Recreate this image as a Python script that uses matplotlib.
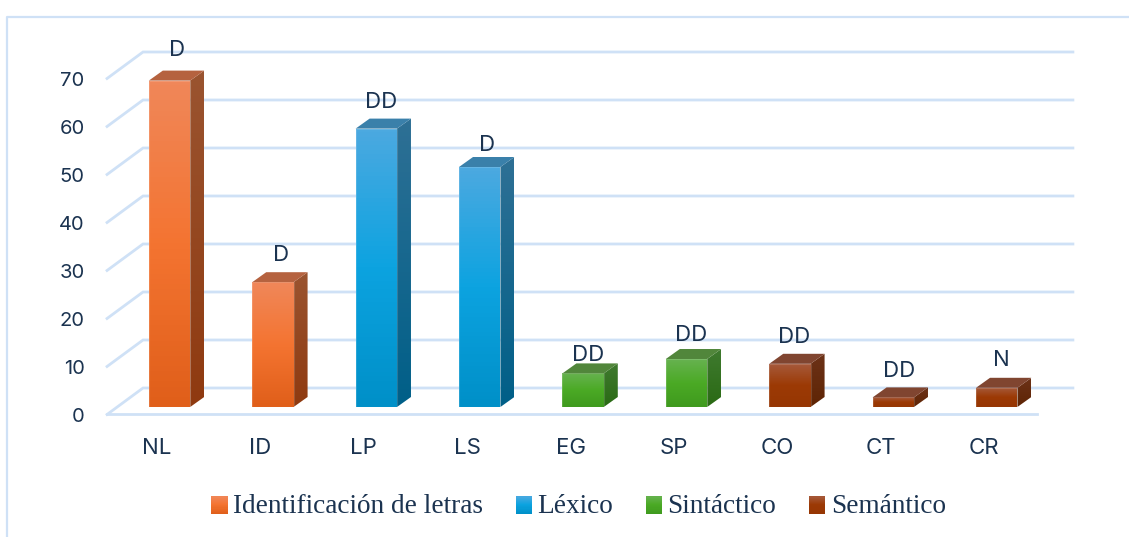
import matplotlib
matplotlib.use('Agg')
import matplotlib.pyplot as plt
import numpy as np
from matplotlib.colors import LinearSegmentedColormap
from matplotlib.legend_handler import HandlerBase
from matplotlib.lines import Line2D
from matplotlib.patches import Patch, Polygon, Rectangle

# Datos
categorias = ['NL', 'ID', 'LP', 'LS', 'EG', 'SP', 'CO', 'CT', 'CR']
valores = [68, 26, 58, 50, 7, 10, 9, 2, 4]
etiquetas = ['D', 'D', 'DD', 'D', 'DD', 'DD', 'DD', 'DD', 'N']
grupos = [0, 0, 1, 1, 2, 2, 3, 3, 3]
nombres_grupos = ['Identificación de letras', 'Léxico', 'Sintáctico', 'Semántico']
ticks_y = [0, 10, 20, 30, 40, 50, 60, 70]

# Colores por grupo
frente = [['#F08759', '#F47431', '#E05F1A'],
          ['#4BA9E0', '#0CA3E0', '#0090C8'],
          ['#66B24F', '#4BAA25', '#3F9A1E'],
          ['#A65A3C', '#9C3A05', '#963603']]
lado = [['#9A5430', '#8F3A10'], ['#2E7095', '#005F88'],
        ['#3F7A2F', '#2A6A14'], ['#6C3218', '#5E2404']]
tapa = ['#B5623F', '#3A80AA', '#51863B', '#804530']
color_rejilla = '#CFE1F6'
color_texto = '#1B3350'

# Escala: 103.4 px por categoria, 4.8 px por unidad
fig = plt.figure(figsize=(11.29, 5.37), dpi=100)
ax = fig.add_axes([0, 0, 1, 1])
ax.axis('off')
xlim = (-169.5 / 103.4, (1129 - 169.5) / 103.4)
ylim = ((407 - 537) / 4.8, 407 / 4.8)
ancho = 0.4
dx = 14 / 103.4
dy = 10 / 4.8


def cara(verts, colores, z):
    verts = np.array(verts)
    cmap = LinearSegmentedColormap.from_list('g', colores)
    grad = np.linspace(0, 1, 64).reshape(-1, 1)
    ext = [verts[:, 0].min(), verts[:, 0].max(), verts[:, 1].min(), verts[:, 1].max()]
    im = ax.imshow(grad, cmap=cmap, extent=ext, aspect='auto', zorder=z, vmin=0, vmax=1)
    im.set_clip_path(Polygon(verts, transform=ax.transData))


# Rejilla
for t in ticks_y:
    ax.plot([-0.604, -0.256, 8.737], [t - 1.56, t + 3.96, t + 3.96],
            color=color_rejilla, lw=2, zorder=1, solid_joinstyle='miter')
    ax.text(-0.82, t - 2.07, str(t), ha='right', va='center', fontsize=14.5,
            family='Inter', color=color_texto)
ax.plot([-0.604, 8.39], [-1.56, -1.56], color=color_rejilla, lw=2, zorder=1)

# Barras
desv_x = [7.5, 8, 5, 7, 5, 4.5, 4, 6, 5]
desv_y = [23, 20, 19, 14, 11, 16, 19, 19, 20]
for i, v in enumerate(valores):
    g = grupos[i]
    x0, x1 = i - ancho / 2, i + ancho / 2
    cara([(x0, 0), (x1, 0), (x1, v), (x0, v)], frente[g], 3)
    cara([(x1, 0), (x1 + dx, dy), (x1 + dx, v + dy), (x1, v)], lado[g], 3)
    ax.add_patch(Polygon([(x0, v), (x1, v), (x1 + dx, v + dy), (x0 + dx, v + dy)],
                         facecolor=tapa[g], edgecolor='none', zorder=3))
    # borde claro del frente
    ax.add_patch(Rectangle((x0, 0), ancho, v, facecolor='none', edgecolor='white',
                           alpha=0.15, lw=0.8, zorder=4))
    ax.text(i + desv_x[i] / 103.4, v + dy + desv_y[i] / 4.8 - 0.5, etiquetas[i], ha='center',
            va='center', fontsize=16, family='Inter', color=color_texto, zorder=5)
    ax.text(i - 12.5 / 103.4, -8.5, categorias[i], ha='center', va='center', fontsize=16,
            family='Inter', color=color_texto)

ax.set_xlim(xlim)
ax.set_ylim(ylim)


# Leyenda con cuadros en degradado
class Degradado(HandlerBase):
    def create_artists(self, legend, orig, x, y, w, h, fontsize, trans):
        cmap = LinearSegmentedColormap.from_list('g', orig.colores)
        n = 16
        return [Rectangle((x, y + h * k / n), w, h / n + 0.3, facecolor=cmap(1 - k / n),
                          edgecolor='none', transform=trans) for k in range(n)]


handles = []
for g, nombre in enumerate(nombres_grupos):
    p = Patch(label=nombre)
    p.colores = frente[g]
    handles.append(p)
ax.legend(handles=handles, handler_map={Patch: Degradado()}, ncol=4, frameon=False,
          loc='center', bbox_to_anchor=(578.5 / 1129, 1 - 506.5 / 537),
          prop={'family': 'Liberation Serif', 'size': 19.6}, labelcolor=color_texto,
          handlelength=0.6, handleheight=0.6, handletextpad=0.2, columnspacing=1.2)

# Marco
fig.add_artist(Line2D([7 / 1129, 7 / 1129, 1], [0, 1 - 17 / 537, 1 - 17 / 537],
                      color=color_rejilla, lw=1.6))

plt.savefig('out.png', dpi=100)
